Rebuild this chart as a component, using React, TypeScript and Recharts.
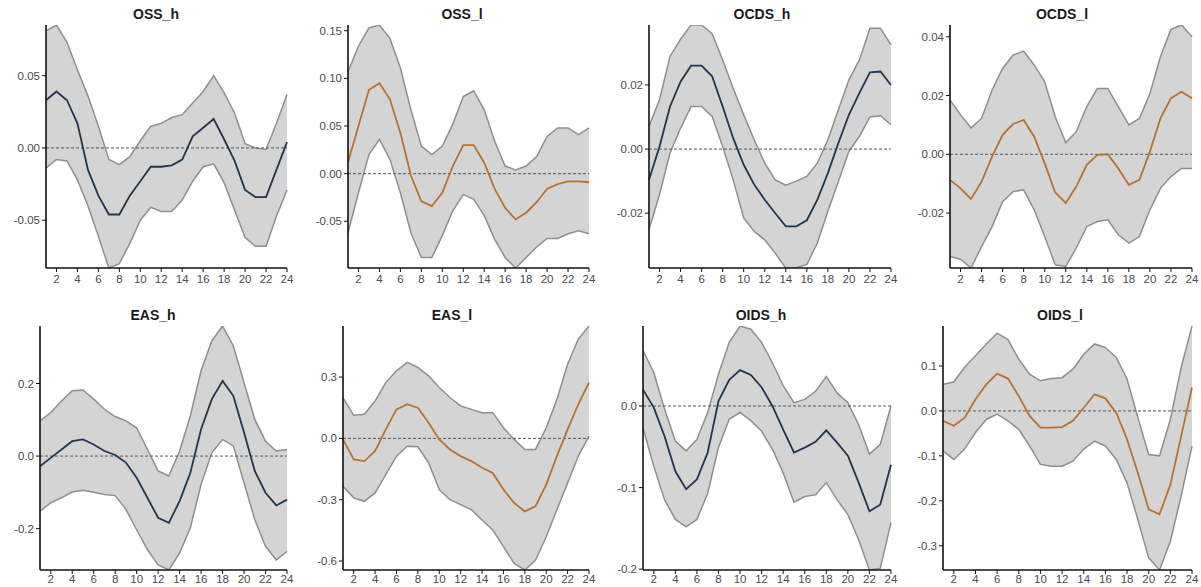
import React from 'react';
import { ComposedChart, Area, Line, XAxis, YAxis, ReferenceLine } from 'recharts';

const horizons = [1, 2, 3, 4, 5, 6, 7, 8, 9, 10, 11, 12, 13, 14, 15, 16, 17, 18, 19, 20, 21, 22, 23, 24];
const xTicks = [2, 4, 6, 8, 10, 12, 14, 16, 18, 20, 22, 24];

const titles = ['OSS_h', 'OSS_l', 'OCDS_h', 'OCDS_l', 'EAS_h', 'EAS_l', 'OIDS_h', 'OIDS_l'];

// OSS_h
const ossHMid = [0.033, 0.039, 0.033, 0.017, -0.015, -0.033, -0.046, -0.046, -0.033, -0.023, -0.013, -0.013, -0.012, -0.008, 0.008, 0.014, 0.020, 0.006, -0.009, -0.029, -0.034, -0.034, -0.015, 0.004];
const ossHHi = [0.081, 0.085, 0.073, 0.054, 0.036, 0.015, -0.008, -0.0115, -0.006, 0.005, 0.015, 0.017, 0.021, 0.023, 0.031, 0.039, 0.050, 0.038, 0.024, 0.003, 0.0, -0.001, 0.017, 0.037];
const ossHLo = [-0.014, -0.008, -0.009, -0.022, -0.040, -0.061, -0.083, -0.080, -0.066, -0.050, -0.041, -0.044, -0.044, -0.036, -0.023, -0.013, -0.011, -0.024, -0.043, -0.062, -0.068, -0.068, -0.047, -0.029];

// OSS_l
const ossLMid = [0.012, 0.050, 0.088, 0.095, 0.078, 0.043, -0.002, -0.029, -0.034, -0.020, 0.008, 0.030, 0.030, 0.0115, -0.016, -0.036, -0.048, -0.041, -0.030, -0.016, -0.011, -0.008, -0.008, -0.009];
const ossLHi = [0.107, 0.134, 0.153, 0.156, 0.142, 0.111, 0.067, 0.029, 0.020, 0.029, 0.052, 0.081, 0.087, 0.067, 0.034, 0.008, 0.004, 0.008, 0.018, 0.039, 0.048, 0.048, 0.041, 0.048];
const ossLLo = [-0.062, -0.020, 0.020, 0.036, 0.015, -0.020, -0.062, -0.088, -0.088, -0.065, -0.039, -0.022, -0.027, -0.044, -0.069, -0.088, -0.099, -0.088, -0.077, -0.068, -0.068, -0.063, -0.060, -0.063];

// OCDS_h
const ocdsHMid = [-0.0096, 0.0008, 0.0133, 0.021, 0.026, 0.026, 0.0227, 0.0133, 0.0034, -0.0049, -0.0111, -0.0158, -0.020, -0.0241, -0.0241, -0.0222, -0.0158, -0.0075, 0.0019, 0.0107, 0.0175, 0.0239, 0.0242, 0.020];
const ocdsHHi = [0.0071, 0.0154, 0.0289, 0.0343, 0.0387, 0.0387, 0.036, 0.0278, 0.019, 0.0107, 0.0029, -0.0044, -0.0096, -0.0113, -0.010, -0.0085, -0.0044, 0.0029, 0.0123, 0.0216, 0.0278, 0.0377, 0.0377, 0.0325];
const ocdsHLo = [-0.0251, -0.0142, -0.0012, 0.0065, 0.0133, 0.0133, 0.0102, 0.0008, -0.0096, -0.0215, -0.0257, -0.0283, -0.0325, -0.0371, -0.037, -0.036, -0.0293, -0.0194, -0.0101, -0.0007, 0.004, 0.010, 0.0104, 0.0076];

// OCDS_l
const ocdsLMid = [-0.0087, -0.0116, -0.0152, -0.0093, -0.0008, 0.0066, 0.0103, 0.0117, 0.006, -0.0031, -0.013, -0.0166, -0.011, -0.0036, -0.0002, 0.0, -0.0048, -0.0104, -0.0087, 0.0009, 0.0122, 0.0191, 0.0213, 0.0191];
const ocdsLHi = [0.0185, 0.0134, 0.009, 0.0122, 0.0219, 0.0292, 0.0338, 0.0351, 0.0304, 0.0247, 0.0128, 0.004, 0.0077, 0.0162, 0.0224, 0.0224, 0.0162, 0.010, 0.0122, 0.0207, 0.0332, 0.0425, 0.044, 0.040];
const ocdsLLo = [-0.0348, -0.0357, -0.0387, -0.0314, -0.0246, -0.0161, -0.0127, -0.0121, -0.0189, -0.028, -0.0376, -0.0382, -0.0319, -0.0246, -0.0229, -0.0223, -0.0274, -0.0302, -0.028, -0.0189, -0.0116, -0.0076, -0.0048, -0.0048];

// EAS_h
const easHMid = [-0.028, -0.005, 0.018, 0.041, 0.046, 0.032, 0.014, 0.003, -0.018, -0.060, -0.115, -0.170, -0.184, -0.124, -0.046, 0.074, 0.157, 0.207, 0.166, 0.065, -0.041, -0.101, -0.136, -0.120];
const easHHi = [0.097, 0.120, 0.152, 0.180, 0.182, 0.157, 0.129, 0.109, 0.097, 0.078, 0.018, -0.041, -0.055, 0.014, 0.111, 0.235, 0.318, 0.3585, 0.304, 0.202, 0.101, 0.041, 0.014, 0.018];
const easHLo = [-0.152, -0.129, -0.115, -0.099, -0.094, -0.100, -0.106, -0.109, -0.147, -0.203, -0.258, -0.300, -0.314, -0.267, -0.198, -0.078, 0.009, 0.046, 0.028, -0.074, -0.175, -0.249, -0.286, -0.263];

// EAS_l
const easLMid = [-0.005, -0.103, -0.111, -0.062, 0.044, 0.142, 0.167, 0.150, 0.077, -0.005, -0.054, -0.087, -0.111, -0.144, -0.169, -0.250, -0.316, -0.357, -0.332, -0.226, -0.087, 0.044, 0.167, 0.273];
const easLHi = [0.200, 0.113, 0.118, 0.183, 0.273, 0.331, 0.372, 0.347, 0.306, 0.249, 0.200, 0.159, 0.142, 0.126, 0.126, 0.052, -0.005, -0.054, -0.054, 0.052, 0.191, 0.363, 0.486, 0.550];
const easLLo = [-0.234, -0.291, -0.308, -0.267, -0.177, -0.087, -0.038, -0.041, -0.119, -0.250, -0.300, -0.324, -0.349, -0.399, -0.448, -0.530, -0.612, -0.644, -0.595, -0.481, -0.349, -0.218, -0.087, 0.011];

// OIDS_h
const oidsHMid = [0.020, -0.002, -0.037, -0.080, -0.102, -0.090, -0.057, 0.006, 0.032, 0.044, 0.038, 0.023, 0.0, -0.029, -0.057, -0.051, -0.044, -0.030, -0.045, -0.061, -0.094, -0.129, -0.121, -0.072];
const oidsHHi = [0.068, 0.041, -0.004, -0.043, -0.055, -0.041, -0.008, 0.039, 0.078, 0.098, 0.094, 0.078, 0.053, 0.025, 0.004, 0.008, 0.018, 0.036, 0.016, 0.004, -0.023, -0.059, -0.047, 0.0];
const oidsHLo = [-0.027, -0.074, -0.115, -0.139, -0.148, -0.139, -0.107, -0.051, -0.016, -0.008, -0.018, -0.031, -0.053, -0.082, -0.118, -0.111, -0.109, -0.094, -0.115, -0.133, -0.164, -0.201, -0.199, -0.143];

// OIDS_l
const oidsLMid = [-0.022, -0.033, -0.015, 0.026, 0.059, 0.083, 0.072, 0.033, -0.011, -0.037, -0.037, -0.036, -0.022, 0.007, 0.037, 0.028, -0.004, -0.063, -0.138, -0.219, -0.230, -0.164, -0.056, 0.052];
const oidsLHi = [0.059, 0.065, 0.097, 0.123, 0.149, 0.173, 0.159, 0.115, 0.082, 0.067, 0.072, 0.074, 0.093, 0.126, 0.149, 0.141, 0.119, 0.071, -0.015, -0.097, -0.100, -0.019, 0.097, 0.189];
const oidsLLo = [-0.089, -0.108, -0.085, -0.048, -0.019, -0.007, -0.022, -0.041, -0.078, -0.119, -0.123, -0.123, -0.112, -0.085, -0.067, -0.078, -0.108, -0.160, -0.242, -0.327, -0.354, -0.290, -0.189, -0.078];

const yTicksList = [
  [-0.05, 0, 0.05],
  [-0.05, 0, 0.05, 0.1, 0.15],
  [-0.02, 0, 0.02],
  [-0.02, 0, 0.02, 0.04],
  [-0.2, 0, 0.2],
  [-0.6, -0.3, 0, 0.3],
  [-0.2, -0.1, 0],
  [-0.3, -0.2, -0.1, 0, 0.1],
];
const yDigits = [2, 2, 2, 2, 1, 1, 1, 1];

const mids = [ossHMid, ossLMid, ocdsHMid, ocdsLMid, easHMid, easLMid, oidsHMid, oidsLMid];
const his = [ossHHi, ossLHi, ocdsHHi, ocdsLHi, easHHi, easLHi, oidsHHi, oidsLHi];
const los = [ossHLo, ossLLo, ocdsHLo, ocdsLLo, easHLo, easLLo, oidsHLo, oidsLLo];

// layout (pixels)
const plotLefts = [46, 48, 49, 50, 40, 43, 43, 43];
const plotRights = [13, 11, 9, 8, 13, 11, 9, 8];
const titleCenters = [156, 162, 162, 162, 153, 152, 161, 160];

const NAVY = '#22344e';
const ORANGE = '#b9712e';
const FONT = '"Liberation Sans", Arial, sans-serif';

function Panel({ i }: { i: number }) {
  const row = Math.floor(i / 4);
  const col = i % 4;
  const data = horizons.map((h, k) => ({
    h,
    mid: mids[i][k],
    lo: los[i][k],
    hi: his[i][k],
    band: [los[i][k], his[i][k]],
  }));
  const yMin = Math.min(...los[i]);
  const yMax = Math.max(...his[i]);
  const color = i % 2 === 0 ? NAVY : ORANGE;
  const height = row === 0 ? 293 : 294;
  const top = row === 0 ? 25 : 33;
  const xAxisH = row === 0 ? 20 : 17;
  const bottom = row === 0 ? 5 : 0;
  const tickMargin = row === 0 ? 3 : 1;
  return (
    <div style={{ position: 'absolute', left: col * 300, top: row * 293, width: 300, height }}>
      <div
        style={{
          position: 'absolute',
          left: titleCenters[i] - 60,
          width: 120,
          top: row === 0 ? 6 : 14,
          textAlign: 'center',
          fontFamily: FONT,
          fontWeight: 'bold',
          fontSize: 14,
          color: '#1a1a1a',
          lineHeight: '16px',
        }}
      >
        {titles[i]}
      </div>
      <ComposedChart
        width={300}
        height={height}
        data={data}
        margin={{ top, right: plotRights[i], bottom, left: 0 }}
      >
        <XAxis
          dataKey="h"
          type="number"
          domain={[1, 24]}
          ticks={xTicks}
          interval={0}
          height={xAxisH}
          tickSize={4}
          tickMargin={tickMargin}
          axisLine={{ stroke: '#111', strokeWidth: 1.6 }}
          tickLine={{ stroke: '#111', strokeWidth: 1 }}
          tick={{ fill: '#4a4a4a', fontSize: 11.5, fontFamily: FONT }}
        />
        <YAxis
          type="number"
          domain={[yMin, yMax]}
          ticks={yTicksList[i]}
          interval={0}
          width={plotLefts[i]}
          tickSize={4}
          tickMargin={2}
          allowDataOverflow
          tickFormatter={(v: number) => v.toFixed(yDigits[i])}
          axisLine={{ stroke: '#111', strokeWidth: 1.6 }}
          tickLine={{ stroke: '#111', strokeWidth: 1 }}
          tick={{ fill: '#4a4a4a', fontSize: 11.5, fontFamily: FONT }}
        />
        <Area
          dataKey="band"
          type="linear"
          stroke="none"
          fill="#d4d4d4"
          fillOpacity={1}
          isAnimationActive={false}
          dot={false}
          activeDot={false}
        />
        <Line dataKey="hi" type="linear" stroke="#8e8e8e" strokeWidth={1.5} dot={false} activeDot={false} isAnimationActive={false} />
        <Line dataKey="lo" type="linear" stroke="#8e8e8e" strokeWidth={1.5} dot={false} activeDot={false} isAnimationActive={false} />
        <ReferenceLine y={0} stroke="#555" strokeWidth={1} strokeDasharray="3 2" />
        <Line dataKey="mid" type="linear" stroke={color} strokeWidth={1.8} dot={false} activeDot={false} isAnimationActive={false} />
      </ComposedChart>
    </div>
  );
}

export default function App() {
  return (
    <div style={{ position: 'absolute', left: 0, top: 0, width: 1201, height: 587, background: '#fff', overflow: 'hidden' }}>
      {titles.map((_, i) => (
        <Panel key={i} i={i} />
      ))}
    </div>
  );
}
